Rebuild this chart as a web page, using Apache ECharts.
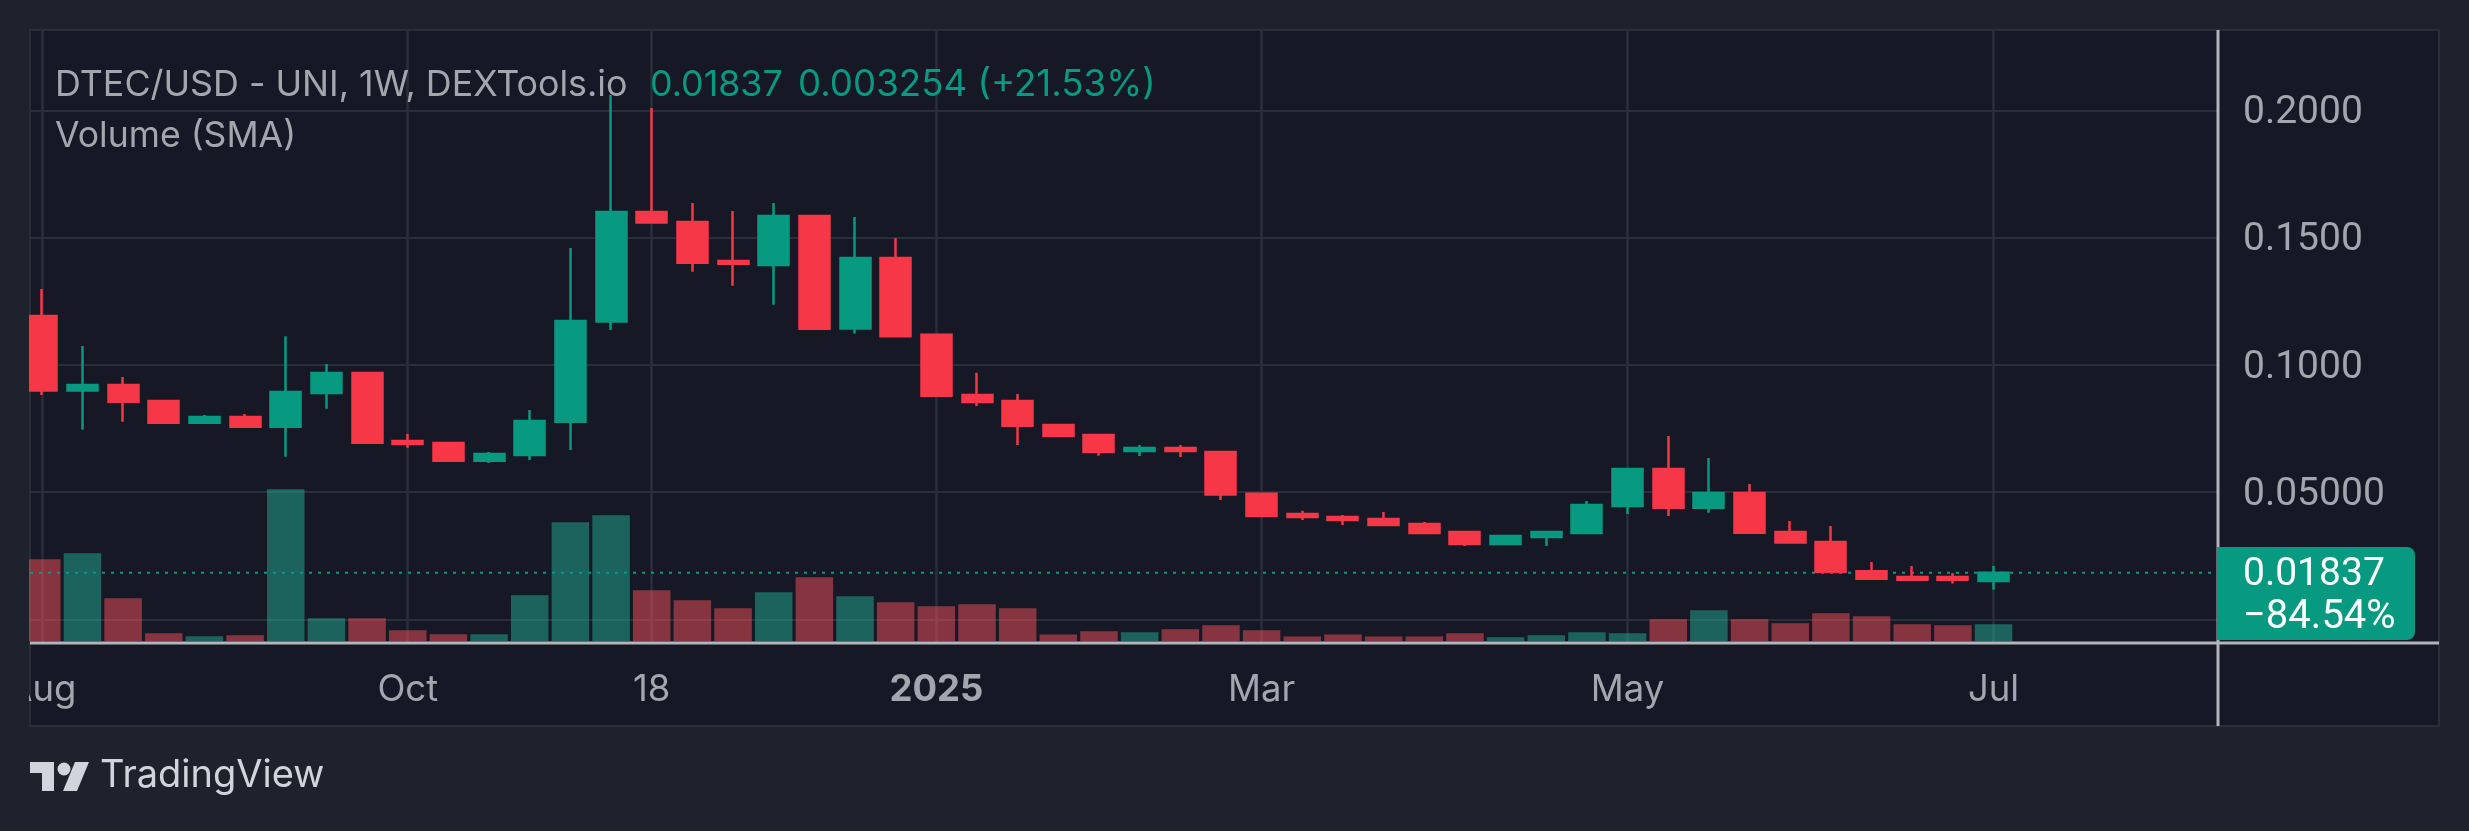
<!DOCTYPE html>
<html>
<head>
<meta charset="utf-8">
<title>DTEC/USD</title>
<style>
  html, body { margin: 0; padding: 0; background: #1e222d; }
  #chart { width: 2469px; height: 831px; }
</style>
<script src="https://cdn.jsdelivr.net/npm/echarts@6/dist/echarts.min.js"></script>
</head>
<body>
<div id="chart"></div>
<script>
const weeks = [
  "2024-08-05", "2024-08-12", "2024-08-19", "2024-08-26", "2024-09-02", "2024-09-09", "2024-09-16",
  "2024-09-23", "2024-09-30", "2024-10-07", "2024-10-14", "2024-10-21", "2024-10-28", "2024-11-04",
  "2024-11-11", "2024-11-18", "2024-11-25", "2024-12-02", "2024-12-09", "2024-12-16", "2024-12-23",
  "2024-12-30", "2025-01-06", "2025-01-13", "2025-01-20", "2025-01-27", "2025-02-03", "2025-02-10",
  "2025-02-17", "2025-02-24", "2025-03-03", "2025-03-10", "2025-03-17", "2025-03-24", "2025-03-31",
  "2025-04-07", "2025-04-14", "2025-04-21", "2025-04-28", "2025-05-05", "2025-05-12", "2025-05-19",
  "2025-05-26", "2025-06-02", "2025-06-09", "2025-06-16", "2025-06-23", "2025-06-30", "2025-07-07"
];
const opens = [
  0.1192, 0.0899, 0.0921, 0.0858, 0.0773, 0.0795, 0.0757, 0.0890, 0.0968, 0.0701,
  0.0693, 0.0624, 0.0646, 0.0777, 0.1170, 0.1601, 0.1561, 0.1408, 0.1392, 0.1585,
  0.1143, 0.1420, 0.1118, 0.0882, 0.0858, 0.0764, 0.0725, 0.0662, 0.0674, 0.0658,
  0.0494, 0.0414, 0.0403, 0.0395, 0.0375, 0.0344, 0.0297, 0.0324, 0.0340, 0.0446,
  0.0591, 0.0439, 0.0497, 0.0344, 0.0304, 0.0190, 0.0167, 0.0167, 0.01512
];
const closes = [
  0.0899, 0.0921, 0.0855, 0.0773, 0.0795, 0.0757, 0.0894, 0.0968, 0.0694, 0.0689,
  0.0624, 0.0650, 0.0780, 0.1172, 0.1601, 0.1559, 0.1401, 0.1397, 0.1585, 0.1142,
  0.1420, 0.1113, 0.0879, 0.0854, 0.0761, 0.0721, 0.0658, 0.0674, 0.0662, 0.0491,
  0.0407, 0.0403, 0.0391, 0.0371, 0.0340, 0.0297, 0.0328, 0.0344, 0.0450, 0.0591,
  0.0439, 0.0497, 0.0341, 0.0302, 0.0188, 0.0160, 0.0156, 0.0156, 0.01837
];
const lows = [
  0.0882, 0.0745, 0.0777, 0.0773, 0.0773, 0.0757, 0.0639, 0.0828, 0.0689, 0.0675,
  0.0624, 0.0615, 0.0626, 0.0666, 0.1137, 0.1559, 0.1366, 0.1311, 0.1236, 0.1142,
  0.1123, 0.1110, 0.0879, 0.0839, 0.0685, 0.0721, 0.0643, 0.0642, 0.0638, 0.0469,
  0.0403, 0.0391, 0.0371, 0.0371, 0.0340, 0.0289, 0.0297, 0.0289, 0.0340, 0.0414,
  0.0407, 0.0419, 0.0341, 0.0302, 0.0188, 0.0155, 0.0156, 0.0141, 0.0117
];
const highs = [
  0.1298, 0.1074, 0.0952, 0.0858, 0.0803, 0.0807, 0.1113, 0.1004, 0.0968, 0.0729,
  0.0693, 0.0658, 0.0823, 0.1459, 0.2060, 0.2009, 0.1636, 0.1604, 0.1636, 0.1585,
  0.1581, 0.1498, 0.1118, 0.0969, 0.0886, 0.0769, 0.0725, 0.0685, 0.0685, 0.0658,
  0.0494, 0.0427, 0.0410, 0.0422, 0.0383, 0.0344, 0.0328, 0.0344, 0.0465, 0.0591,
  0.0721, 0.0634, 0.0532, 0.0387, 0.0367, 0.0226, 0.0210, 0.0183, 0.0210
];
const volumes = [
  82, 88, 43, 8, 5, 6, 152, 23, 23, 11, 7, 7, 46, 119, 126, 51, 41, 33, 49, 64,
  45, 39, 35, 37, 33, 6.7, 10, 9, 12, 16, 11, 4.7, 6.7, 4.7, 4.7, 8, 4, 6, 9, 8,
  22, 31, 22, 18, 28, 25, 17, 16, 17
];
const timeTicks = ["2024-08-05", "2024-10-07", "2024-11-18", "2025-01-06", "2025-03-03", "2025-05-05", "2025-07-07"];
const timeLabels = ["Aug", "Oct", "18", "{b|2025}", "Mar", "May", "Jul"];
const priceGrid = [0, 0.05, 0.1, 0.15, 0.2];
const priceTicks = [0.05, 0.1, 0.15, 0.2];
const priceLabels = ["0.05000", "0.1000", "0.1500", "0.2000"];
const lastPrice = 0.01837;

const UP = "#089981", DOWN = "#f53748", GRID = "#2a2e39", TEXT = "#a3a6af", AXIS = "#b2b5be";
const PAGE = "#1e222d";
const FONT = "Inter, sans-serif", PRICE_FONT = "Roboto, sans-serif";
const X_MIN = -0.29, X_MAX = 53.52;

// x runs on the week number, so the axis can start partway through a bar
const weekTicks = timeTicks.map((d) => weeks.indexOf(d));

const label = (x, y, text, fill, size, family) => ({
  type: "text", x, y, z: 20,
  style: { text, fill, font: `${size || 35.8}px ${family || FONT}`, verticalAlign: "middle" }
});

const chart = echarts.init(document.getElementById("chart"), null, { renderer: "canvas" });
chart.setOption({
  animation: false,
  backgroundColor: PAGE,
  grid: { left: 30, width: 2188, top: 30, height: 613, containLabel: false },
  xAxis: {
    type: "value",
    min: X_MIN,
    max: X_MAX,
    axisLine: { show: false },
    axisTick: { show: false, customValues: weekTicks },
    splitLine: { show: true, lineStyle: { color: GRID, width: 2.5 } },
    axisLabel: {
      customValues: weekTicks,
      formatter: (v) => timeLabels[weekTicks.indexOf(v)],
      color: TEXT, fontFamily: FONT, fontSize: 36.5, margin: 29,
      rich: { b: { fontWeight: "bold", color: TEXT, fontFamily: FONT, fontSize: 36.5 } }
    }
  },
  yAxis: [
    {
      type: "value",
      position: "right",
      min: -0.00923,
      max: 0.23154,
      axisLine: { show: false },
      axisTick: { show: false, customValues: priceGrid },
      splitLine: { show: true, lineStyle: { color: GRID, width: 2 } },
      axisLabel: {
        customValues: priceTicks,
        formatter: (v) => `{p|${priceLabels[priceTicks.indexOf(v)]}}`,
        margin: 25,
        rich: { p: { color: TEXT, fontFamily: PRICE_FONT, fontSize: 39, padding: [6, 0, 0, 0] } }
      }
    },
    // volume sits on the axis border, a little above the plot bottom
    { type: "value", min: -1.7, max: 611.3, show: false, splitLine: { show: false } }
  ],
  series: [
    {
      name: "Volume",
      type: "bar",
      yAxisIndex: 1,
      barWidth: 37.5,
      z: 1,
      data: volumes.map((v, i) => ({
        value: [i, v],
        itemStyle: { color: closes[i] >= opens[i] ? "rgba(36,173,149,0.5)" : "rgba(248,79,93,0.5)" }
      }))
    },
    {
      name: "Last price",
      type: "line",
      z: 2,
      symbol: "none",
      silent: true,
      lineStyle: { color: UP, type: [3, 6], width: 2 },
      data: [[X_MIN, lastPrice], [X_MAX, lastPrice]]
    },
    {
      name: "DTEC/USD",
      type: "candlestick",
      barWidth: 30.5,
      z: 3,
      itemStyle: { color: UP, color0: DOWN, borderColor: UP, borderColor0: DOWN, borderWidth: 2.5 },
      data: weeks.map((d, i) => [i, opens[i], closes[i], lows[i], highs[i]])
    }
  ],
  graphic: [
    // pane behind everything
    { type: "rect", z: -10, shape: { x: 30, y: 30, width: 2409, height: 696 }, style: { fill: "#161925", stroke: GRID, lineWidth: 2 } },
    // axis borders run past the plot area
    { type: "rect", z: 10, shape: { x: 2216.5, y: 30, width: 3, height: 696 }, style: { fill: AXIS } },
    { type: "rect", z: 10, shape: { x: 30, y: 641.5, width: 2409, height: 3 }, style: { fill: AXIS } },
    // first bar and "Aug" are cut at the pane edge
    { type: "rect", z: 10, shape: { x: 0, y: 28, width: 29, height: 700 }, style: { fill: PAGE } },
    // last price tag
    { type: "rect", z: 12, shape: { x: 2217, y: 547, width: 198, height: 93, r: [0, 8, 8, 0] }, style: { fill: UP } },
    label(2243, 575, "0.01837", "#ffffff", 39, PRICE_FONT),
    label(2243, 618, "−84.54%", "#ffffff", 40, PRICE_FONT),
    // legend
    label(55, 85, "DTEC/USD - UNI, 1W, DEXTools.io", TEXT),
    label(650, 85, "0.01837", UP),
    label(798, 85, "0.003254 (+21.53%)", UP, 36.7),
    label(55, 136, "Volume (SMA)", TEXT, 35.6),
    // logo
    { type: "polygon", z: 20, shape: { points: [[30, 762], [54, 762], [54, 791], [42, 791], [42, 773], [30, 773]] }, style: { fill: "#d1d4dc" } },
    { type: "circle", z: 20, shape: { cx: 64, cy: 769, r: 6.5 }, style: { fill: "#d1d4dc" } },
    { type: "polygon", z: 20, shape: { points: [[75, 762], [89, 762], [77, 791], [63, 791]] }, style: { fill: "#d1d4dc" } },
    label(100, 776, "TradingView", "#d1d4dc", 38)
  ]
});
</script>
</body>
</html>
